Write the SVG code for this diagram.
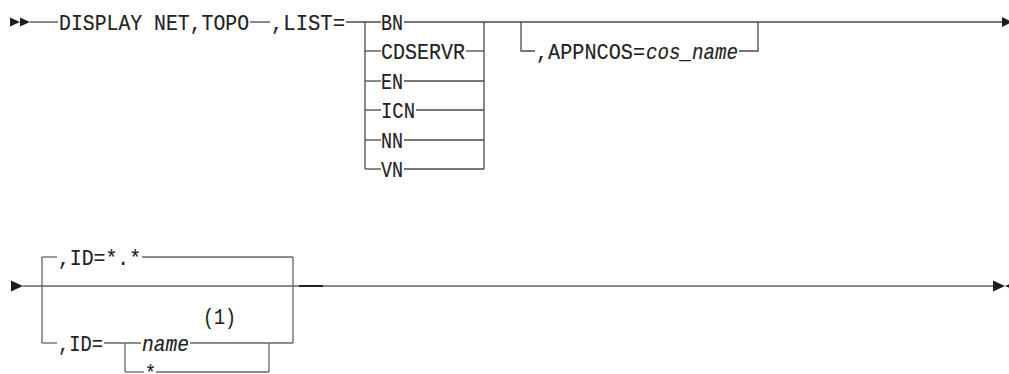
<svg xmlns="http://www.w3.org/2000/svg" width="1009" height="374" viewBox="0 0 1009 374">
<style>
.bg{fill:#ffffff}
.ln{stroke:#4a4a4a;stroke-width:1.3;fill:none}
.lg{stroke:#666666;stroke-width:1.3;fill:none}
.thick{stroke:#222222;stroke-width:2;fill:none}
.ah{fill:#1e1e1e;stroke:none}
.t{font-family:"Liberation Mono","DejaVu Sans Mono",monospace;font-size:22px;fill:#222222;stroke:#222222;stroke-width:0.15}
.i{font-family:"Liberation Mono","DejaVu Sans Mono",monospace;font-size:22px;font-style:italic;fill:#222222;stroke:#222222;stroke-width:0.15}
</style>
<rect class="bg" x="0" y="0" width="1009" height="374"/>
<g id="connectors">
  <polygon class="ah" points="10,17.5 20,22 10,26.5"/>
  <polygon class="ah" points="20,17.5 30,22 20,26.5"/>
  <line class="ln" x1="30" y1="22" x2="58" y2="22"/>
  <line class="ln" x1="250" y1="22" x2="270" y2="22"/>
  <line class="ln" x1="346" y1="22" x2="381" y2="22"/>
  <line class="ln" x1="365" y1="22" x2="365" y2="169"/>
  <line class="ln" x1="484" y1="22" x2="484" y2="169"/>
  <line class="ln" x1="404" y1="22" x2="1002" y2="22"/>
  <line class="ln" x1="365" y1="51" x2="381" y2="51"/>
  <line class="ln" x1="466" y1="51" x2="484" y2="51"/>
  <line class="ln" x1="365" y1="81" x2="381" y2="81"/>
  <line class="ln" x1="404" y1="81" x2="484" y2="81"/>
  <line class="ln" x1="365" y1="110" x2="381" y2="110"/>
  <line class="ln" x1="416" y1="110" x2="484" y2="110"/>
  <line class="ln" x1="365" y1="140" x2="381" y2="140"/>
  <line class="ln" x1="404" y1="140" x2="484" y2="140"/>
  <line class="ln" x1="365" y1="169" x2="381" y2="169"/>
  <line class="ln" x1="404" y1="169" x2="484" y2="169"/>
  <polyline class="ln" points="521,22 521,51 535,51"/>
  <polyline class="ln" points="739,51 758,51 758,22"/>
  <polygon class="ah" points="1002,17 1012,22 1002,27"/>
  <polygon class="ah" points="11,280.5 23,286 11,291.5"/>
  <line class="lg" x1="23" y1="286" x2="994" y2="286"/>
  <line class="thick" x1="299" y1="286" x2="323" y2="286"/>
  <line class="lg" x1="42" y1="257" x2="42" y2="343"/>
  <line class="lg" x1="293" y1="257" x2="293" y2="343"/>
  <line class="lg" x1="42" y1="257" x2="57" y2="257"/>
  <line class="lg" x1="142" y1="257" x2="293" y2="257"/>
  <line class="lg" x1="42" y1="343" x2="57" y2="343"/>
  <line class="lg" x1="104" y1="343" x2="141" y2="343"/>
  <line class="lg" x1="190" y1="343" x2="293" y2="343"/>
  <line class="lg" x1="125" y1="343" x2="125" y2="372"/>
  <line class="lg" x1="269" y1="343" x2="269" y2="372"/>
  <line class="lg" x1="125" y1="372" x2="144" y2="372"/>
  <line class="lg" x1="156" y1="372" x2="269" y2="372"/>
  <polygon class="ah" points="993,280.5 1005,286 993,291.5"/>
  <polygon class="ah" points="1017,280.5 1005,286 1017,291.5"/>
</g>
<g id="node-display"><text class="t" x="59" y="29.5" textLength="190" lengthAdjust="spacingAndGlyphs">DISPLAY NET,TOPO</text></g>
<g id="node-list"><text class="t" x="271" y="29.5" textLength="74" lengthAdjust="spacingAndGlyphs">,LIST=</text></g>
<g id="node-bn"><text class="t" x="381" y="29.5" textLength="22" lengthAdjust="spacingAndGlyphs">BN</text></g>
<g id="node-cdservr"><text class="t" x="381" y="58.5" textLength="84" lengthAdjust="spacingAndGlyphs">CDSERVR</text></g>
<g id="node-en"><text class="t" x="381" y="88.5" textLength="22" lengthAdjust="spacingAndGlyphs">EN</text></g>
<g id="node-icn"><text class="t" x="381" y="117.5" textLength="34" lengthAdjust="spacingAndGlyphs">ICN</text></g>
<g id="node-nn"><text class="t" x="381" y="147.5" textLength="22" lengthAdjust="spacingAndGlyphs">NN</text></g>
<g id="node-vn"><text class="t" x="381" y="176.5" textLength="22" lengthAdjust="spacingAndGlyphs">VN</text></g>
<g id="node-appncos"><text class="t" x="536" y="58.5" textLength="109" lengthAdjust="spacingAndGlyphs">,APPNCOS=</text><text class="i" x="646" y="58.5" textLength="92" lengthAdjust="spacingAndGlyphs">cos_name</text></g>
<g id="node-id-default"><text class="t" x="58" y="264.5" textLength="83" lengthAdjust="spacingAndGlyphs">,ID=*.*</text></g>
<g id="node-id"><text class="t" x="58" y="350.5" textLength="45" lengthAdjust="spacingAndGlyphs">,ID=</text></g>
<g id="node-name"><text class="i" x="142" y="350.5" textLength="47" lengthAdjust="spacingAndGlyphs">name</text></g>
<g id="note-1"><text class="t" x="203" y="324" textLength="33" lengthAdjust="spacingAndGlyphs">(1)</text></g>
<g id="node-star"><text class="t" x="145" y="379.5" textLength="11" lengthAdjust="spacingAndGlyphs">*</text></g>
</svg>
